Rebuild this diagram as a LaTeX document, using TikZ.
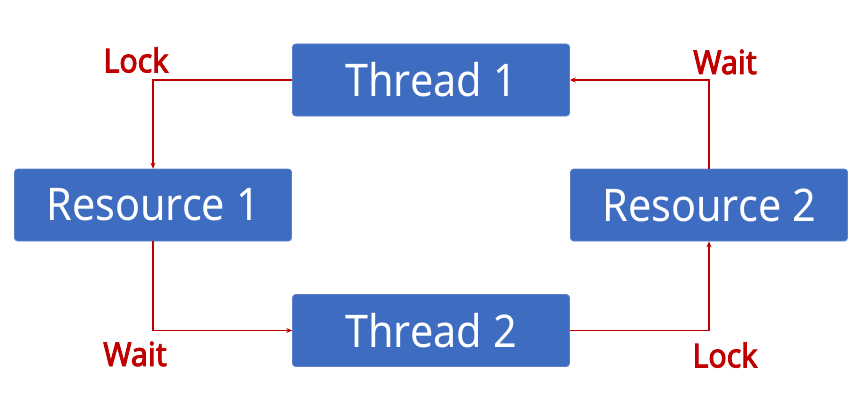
\documentclass[tikz,border=0pt]{standalone}
\usepackage{fontspec}
\setmainfont{Noto Sans}[FakeStretch=0.92]
\newfontfamily\lblfont{Noto Sans}[FakeStretch=0.92,FakeBold=2.6]
\usetikzlibrary{arrows.meta}
\definecolor{boxblue}{RGB}{62,108,192}
\definecolor{lred}{RGB}{192,0,0}
\begin{document}
\begin{tikzpicture}[x=1pt,y=-1pt,
  box/.style={fill=boxblue,draw=boxblue!85!white,line width=0.6pt,rounded corners=3pt,
    minimum width=277pt,minimum height=72pt,inner sep=0pt,text=white,
    font=\fontsize{45}{48}\selectfont},
  conn/.style={draw=lred,line width=1.6pt,-{Stealth[length=6pt,width=5pt]}},
  lbl/.style={text=lred,font=\lblfont\fontsize{33}{36}\selectfont,inner sep=0pt}]
\useasboundingbox (0,0) rectangle (866,396);
\node[box] (t1) at (431,80) {Thread 1};
\node[box] (r1) at (153,205) {Resource 1};
\node[box] (r2) at (709,205) {Resource 2};
\node[box] (t2) at (431,330.5) {Thread 2};
\draw[conn] (t1.west) -| (r1.north);
\draw[conn] (r1.south) |- (t2.west);
\draw[conn] (t2.east) -| (r2.south);
\draw[conn] (r2.north) |- (t1.east);
\node[lbl] (l1) at (136,60) {Lock};
\node[lbl] (w1) at (725,62) {Wait};
\node[lbl] (w2) at (135,354) {Wait};
\node[lbl] (l2) at (725,355) {Lock};
\end{tikzpicture}
\end{document}
